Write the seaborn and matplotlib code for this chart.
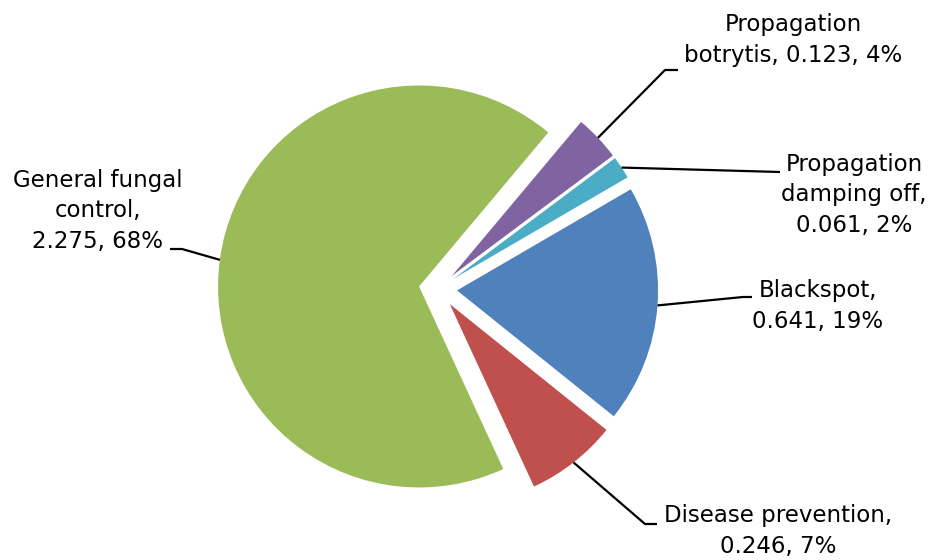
import numpy as np
import seaborn as sns
import matplotlib.pyplot as plt

# data (clockwise, starting at the purple slice)
categories = ["Propagation botrytis", "Propagation damping off", "Blackspot",
              "Disease prevention", "General fungal control"]
values = [0.123, 0.061, 0.641, 0.246, 2.275]
label_texts = ["Propagation\nbotrytis, 0.123, 4%",
               "Propagation\ndamping off,\n0.061, 2%",
               "Blackspot,\n0.641, 19%",
               "Disease prevention,\n0.246, 7%",
               "General fungal\ncontrol,\n2.275, 68%"]
colors = ["#8064A2", "#4BACC6", "#4F81BD", "#C0504D", "#9BBB59"]

sns.set_style("white")
plt.rcParams['font.family'] = ['DejaVu Sans']

W, H = 935, 560
cx, cy, R = 438, 289, 201  # pie centre / radius in pixels

fig = plt.figure(figsize=(W / 100, H / 100), dpi=100)
ax = fig.add_axes([0, 0, 1, 1])


def px(x, y):
    return (x - cx) / R, (cy - y) / R


wedges, _ = ax.pie(values, colors=colors, startangle=50, counterclock=False,
                   explode=[0.095] * len(values), radius=1.0,
                   wedgeprops=dict(linewidth=0))

ax.set_xlim(-cx / R, (W - cx) / R)
ax.set_ylim(-(H - cy) / R, cy / R)
ax.set_aspect("equal", adjustable="datalim")
ax.axis("off")

# label layout: text centre, elbow point, end of leader (pixels)
text_pos = [(793, 40), (854, 195), (818, 306), (778, 531), (98, 211)]
elbows = [[(665, 70), (678, 70)],
          [(780, 172)],
          [(743, 297), (752, 297)],
          [(645, 524), (657, 524)],
          [(182, 249), (170, 249)]]

for w, txt, tp, elb in zip(wedges, label_texts, text_pos, elbows):
    mid = np.deg2rad((w.theta1 + w.theta2) / 2)
    x0 = w.center[0] + w.r * np.cos(mid)
    y0 = w.center[1] + w.r * np.sin(mid)
    pts = [(x0, y0)] + [px(*p) for p in elb]
    ax.plot([p[0] for p in pts], [p[1] for p in pts], color="black", lw=1.6,
            solid_capstyle="butt")
    tx, ty = px(*tp)
    ax.text(tx, ty, txt, ha="center", va="center", fontsize=16.5,
            linespacing=1.42, color="black")

fig.savefig("out.png", dpi=100)
